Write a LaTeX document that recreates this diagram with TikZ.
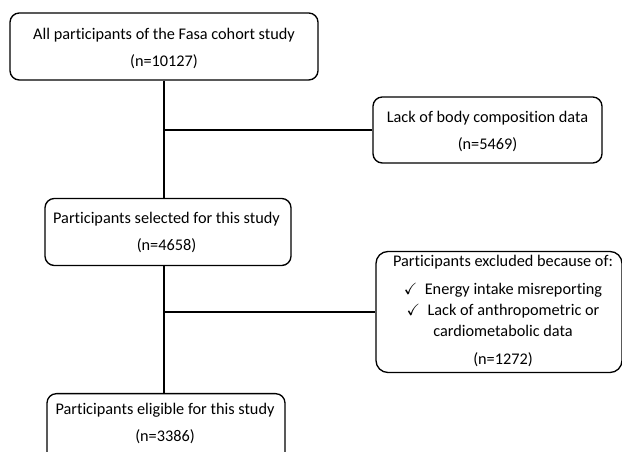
\documentclass[tikz,border=0pt]{standalone}
\usepackage{fontspec}
\usepackage{amssymb}
\setmainfont{Carlito}[Ligatures=NoCommon]
\begin{document}
\begin{tikzpicture}[x=0.75pt,y=-0.75pt,
  box/.style={draw=black,line width=1pt,rounded corners=7pt,inner sep=0pt},
  txt/.style={align=center,font=\fontsize{12.2}{15.75}\selectfont,inner sep=0pt},
  conn/.style={draw=black,line width=1pt}]
\useasboundingbox (0,0) rectangle (622,452);
\clip (0,0) rectangle (622,452);
% boxes
\node[box,minimum width=231pt,minimum height=50.25pt] (b1) at (164,46.5) {};
\node[txt] (t1) at (164,48.5) {All participants of the Fasa cohort study\\[4.5pt](n=10127)};
\node[box,minimum width=171.75pt,minimum height=49.5pt] (b2) at (487.5,130) {};
\node[txt] (t2) at (487.5,131.5) {Lack of body composition data\\[4.5pt](n=5469)};
\node[box,minimum width=184.5pt,minimum height=50.25pt] (b3) at (168,232) {};
\node[txt] (t3) at (166.5,232.5) {Participants selected for this study\\[4.5pt](n=4658)};
\node[box,rounded corners=9pt,minimum width=184.5pt,minimum height=90.75pt] (b4) at (499,312) {};
\node[txt] (t4) at (503,311) {Participants excluded because of:\\[5.25pt]
  $\checkmark$\ \ Energy intake misreporting\\
  $\checkmark$\ \ Lack of anthropometric or\\
  cardiometabolic data\\[5.25pt]
  (n=1272)};
\node[box,anchor=north,minimum width=178.5pt,minimum height=60pt] (b5) at (166,393) {};
\node[txt] (t5) at (165,423.5) {Participants eligible for this study\\[4.5pt](n=3386)};
% connectors
\coordinate (j1) at (b1.south |- b2.west);
\coordinate (j2) at (b1.south |- b4.west);
\draw[conn] (b1.south) -- (b1.south |- b3.north);
\draw[conn] (j1) -- (b2.west);
\draw[conn] (b1.south |- b3.south) -- (b1.south |- b5.north);
\draw[conn] (j2) -- (b4.west);
\end{tikzpicture}
\end{document}
